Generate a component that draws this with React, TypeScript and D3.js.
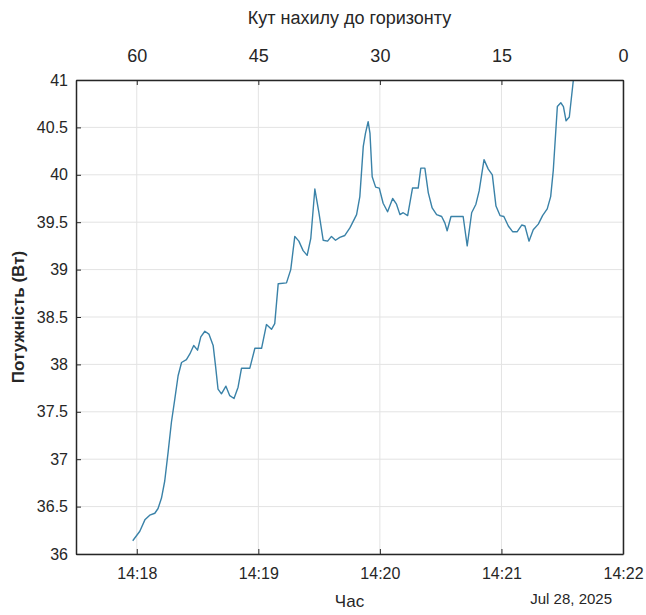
import { useEffect, useRef } from 'react'
import * as d3 from 'd3'

// seconds after 14:18:00 and measured power (W)
const secs = [
  -2, 1.5, 4, 6.4, 8.9, 10.5, 12.2, 13.8, 15.5, 17.1, 18.8, 20.4, 22.1, 24.5,
  26.2, 28.1, 30, 31.6, 33.6, 35.6, 37.7, 38.9, 40.1, 41.8, 44, 45.9, 48, 50,
  51.7, 55.8, 58.3, 61.6, 64, 66.5, 68.1, 69.8, 73.9, 76, 78, 80, 82.1, 84.1,
  85.9, 87.9, 89.9, 92, 94.2, 96.1, 98.1, 100.2, 102.7, 105.2, 108.5, 110.1,
  111.8, 112.9, 114.2, 115.1, 116.2, 117.9, 119.7, 121.6, 123.8, 126.3, 128.2,
  129.9, 131.5, 133.7, 136.1, 138.9, 140.2, 142.2, 143.9, 145.8, 148, 150.5,
  152.1, 153.2, 155.1, 161.1, 163.1, 165.3, 167.4, 169, 171.4, 173.5, 175.5,
  177.3, 179.3, 181.2, 183.4, 185.5, 187.8, 190, 191.6, 193.6, 195.7, 198.2,
  200.3, 202.6, 204.3, 205.6, 207.6, 209.3, 210.6, 211.9, 213.5, 215.5, 217,
]
const power = [
  36.14, 36.24, 36.36, 36.41, 36.43, 36.48, 36.59, 36.77, 37.08, 37.39, 37.64,
  37.88, 38.02, 38.05, 38.11, 38.2, 38.15, 38.29, 38.35, 38.32, 38.2, 37.98,
  37.74, 37.69, 37.77, 37.67, 37.64, 37.76, 37.96, 37.96, 38.17, 38.17, 38.42,
  38.37, 38.43, 38.85, 38.86, 39.0, 39.35, 39.3, 39.2, 39.15, 39.33, 39.85,
  39.6, 39.31, 39.3, 39.35, 39.31, 39.34, 39.36, 39.44, 39.58, 39.77, 40.3,
  40.44, 40.56, 40.44, 39.98, 39.87, 39.86, 39.7, 39.61, 39.75, 39.69, 39.58,
  39.6, 39.57, 39.86, 39.86, 40.07, 40.07, 39.81, 39.65, 39.58, 39.56, 39.49,
  39.41, 39.56, 39.56, 39.25, 39.6, 39.69, 39.83, 40.16, 40.06, 40.0, 39.67,
  39.57, 39.56, 39.46, 39.4, 39.4, 39.47, 39.46, 39.3, 39.42, 39.48, 39.57,
  39.64, 39.77, 40.05, 40.72, 40.76, 40.72, 40.57, 40.61, 41.0, 41.2,
]
const angleTicks = [60, 45, 30, 15, 0]
const powerTicks = [36, 36.5, 37, 37.5, 38, 38.5, 39, 39.5, 40, 40.5, 41]

const width = 646
const height = 615
const margin = { left: 76, right: 23, top: 80, bottom: 61 }
const FONT = '"Liberation Sans", Arial, sans-serif'

const t0 = new Date(2025, 6, 28, 14, 18, 0).getTime()

function App() {
  const ref = useRef<SVGSVGElement>(null)

  useEffect(() => {
    drawChart()
  }, [])

  const drawChart = () => {
    const root = d3.select(ref.current)
    root.selectAll('*').remove()
    const w = width - margin.left - margin.right
    const h = height - margin.top - margin.bottom
    const data = secs.map((s, i) => ({ date: new Date(t0 + s * 1000), value: power[i] }))

    const xScale = d3
      .scaleTime()
      .domain([new Date(t0 - 30000), new Date(t0 + 240000)])
      .range([0, w])
    const yScale = d3.scaleLinear().domain([36, 41]).range([h, 0])
    const angleScale = d3.scaleLinear().domain([67.5, 0]).range([0, w])
    const timeTicks = xScale.ticks(d3.timeMinute.every(1) as any)

    const svg = root
      .append('g')
      .attr('transform', `translate(${margin.left},${margin.top})`)

    svg
      .append('defs')
      .append('clipPath')
      .attr('id', 'plot-clip')
      .append('rect')
      .attr('width', w)
      .attr('height', h)

    // grid
    svg
      .append('g')
      .selectAll('line')
      .data(timeTicks)
      .join('line')
      .attr('x1', (d) => xScale(d))
      .attr('x2', (d) => xScale(d))
      .attr('y1', 0)
      .attr('y2', h)
      .attr('stroke', '#e3e3e3')
    svg
      .append('g')
      .selectAll('line')
      .data(powerTicks)
      .join('line')
      .attr('x1', 0)
      .attr('x2', w)
      .attr('y1', (d) => yScale(d))
      .attr('y2', (d) => yScale(d))
      .attr('stroke', '#e3e3e3')

    const line = d3
      .line<any>()
      .x((d) => xScale(d.date))
      .y((d) => yScale(d.value))
    svg
      .append('path')
      .datum(data)
      .attr('clip-path', 'url(#plot-clip)')
      .attr('fill', 'none')
      .attr('stroke', '#3a82a8')
      .attr('stroke-width', 1.4)
      .attr('stroke-linejoin', 'round')
      .attr('d', line)

    // axes (ticks pointing inwards, MATLAB style)
    const bottom = svg
      .append('g')
      .attr('transform', `translate(0,${h})`)
      .call(
        d3
          .axisBottom(xScale)
          .tickValues(timeTicks)
          .tickFormat(d3.timeFormat('%H:%M') as any)
          .tickSizeInner(-5)
          .tickSizeOuter(0)
          .tickPadding(14)
      )
    const top = svg.append('g').call(
      d3
        .axisTop(angleScale)
        .tickValues(angleTicks)
        .tickSizeInner(-5)
        .tickSizeOuter(0)
        .tickPadding(18)
    )
    const left = svg.append('g').call(
      d3
        .axisLeft(yScale)
        .tickValues(powerTicks)
        .tickFormat(d3.format('~g') as any)
        .tickSizeInner(-5)
        .tickSizeOuter(0)
        .tickPadding(8)
    )
    const right = svg
      .append('g')
      .attr('transform', `translate(${w},0)`)
      .call(d3.axisRight(yScale).tickValues([]).tickSizeOuter(0))
    ;[bottom, top, left, right].forEach((g) => {
      g.select('.domain').attr('stroke', '#262626').attr('stroke-width', 1.5)
      g.selectAll('.tick line').attr('stroke', '#262626')
      g.selectAll('.tick text')
        .attr('fill', '#262626')
        .style('font-family', FONT)
        .style('font-size', '16px')
    })
    top.selectAll('.tick text').style('font-size', '18px')

    // labels
    svg
      .append('text')
      .attr('x', w / 2)
      .attr('y', -56)
      .attr('text-anchor', 'middle')
      .attr('fill', '#262626')
      .style('font-family', FONT)
      .style('font-size', '18px')
      .text('Кут нахилу до горизонту')
    svg
      .append('text')
      .attr('x', w / 2)
      .attr('y', h + 53)
      .attr('text-anchor', 'middle')
      .attr('fill', '#262626')
      .style('font-family', FONT)
      .style('font-size', '17px')
      .text('Час')
    svg
      .append('text')
      .attr('x', w - 11)
      .attr('y', h + 50)
      .attr('text-anchor', 'end')
      .attr('fill', '#262626')
      .style('font-family', FONT)
      .style('font-size', '15px')
      .text('Jul 28, 2025')
    svg
      .append('text')
      .attr('transform', `translate(-52,${h / 2}) rotate(-90)`)
      .attr('text-anchor', 'middle')
      .attr('fill', '#262626')
      .style('font-family', FONT)
      .style('font-size', '17px')
      .style('font-weight', 'bold')
      .text('Потужність (Вт)')
  }

  return (
    <svg
      ref={ref}
      width={width}
      height={height}
      style={{ position: 'absolute', left: 0, top: 0, background: '#fff' }}
    />
  )
}

export default App
